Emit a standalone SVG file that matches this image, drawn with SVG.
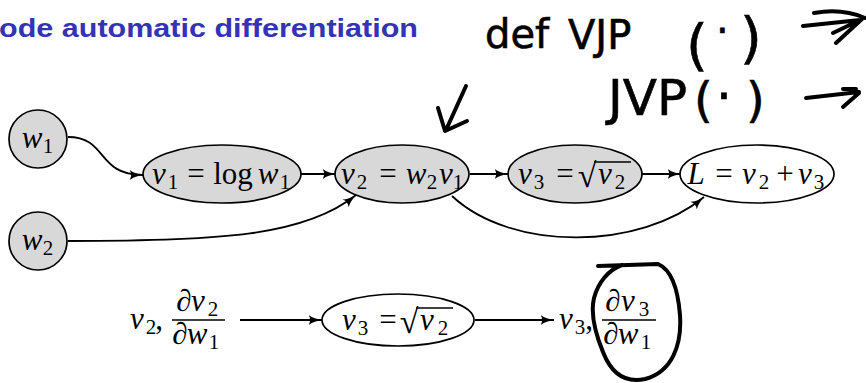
<svg xmlns="http://www.w3.org/2000/svg" width="866" height="383" viewBox="0 0 866 383">
<style>
.title{font-family:"Liberation Sans","DejaVu Sans",sans-serif;font-weight:bold;font-size:26px;fill:#3333b3}
.m{font-family:"Liberation Serif","DejaVu Serif",serif;font-size:31px;fill:#000;text-anchor:middle}
.i{font-style:italic}
.s{font-size:21px}
.node{fill:#d8d8d8;stroke:#000;stroke-width:1.7}
.wnode{fill:#fff;stroke:#000;stroke-width:1.7}
.edge{fill:none;stroke:#000;stroke-width:1.8;marker-end:url(#ah)}
.rule{stroke:#000;stroke-width:1.4}
.hand{font-family:"DejaVu Sans","Liberation Sans",sans-serif;fill:#000;stroke:#000;stroke-width:0.6}
.pen{fill:none;stroke:#000;stroke-width:4;stroke-linecap:round;stroke-linejoin:round}
</style>
<defs>
<marker id="ah" viewBox="0 0 14 11" refX="13.5" refY="5.5" markerWidth="14" markerHeight="11" markerUnits="userSpaceOnUse" orient="auto">
<path d="M0,0.5 C3.5,3.2 8,4.7 14,5.5 C8,6.3 3.5,7.8 0,10.5 C2.2,7.2 2.2,3.8 0,0.5 Z" fill="#000"/>
</marker>
</defs>
<rect width="866" height="383" fill="#fff"/>

<text class="title" x="-1" y="37" textLength="419" lengthAdjust="spacingAndGlyphs">ode automatic differentiation</text>

<g id="handwriting">
<text class="hand" font-size="40"><tspan x="485" y="48">def</tspan><tspan x="568" y="49">VJP</tspan><tspan x="686" y="64" font-size="56">(</tspan><tspan x="716" y="45">·</tspan><tspan x="740" y="57" font-size="56">)</tspan></text>
<text class="hand" font-size="50"><tspan x="608" y="115">JVP</tspan><tspan x="694" y="117" font-size="48">(</tspan><tspan x="716" y="113">·</tspan><tspan x="746" y="117" font-size="48">)</tspan></text>
<path class="pen" d="M814,13 Q842,8 865,18 M803,26 L860,20 M833,33 L858,21 M836,43 L862,19"/>
<path class="pen" d="M806,98 L859,92 M843,107 L859,93 M843,89 L856,89"/>
<path class="pen" stroke-width="5" d="M466,86 L446,130 M438,108 L445,131 L467,121"/>
</g>

<g id="connectors">
<path class="edge" d="M68,137 C108,137 96,175 143,175"/>
<path class="edge" d="M301,174 L336,174"/>
<path class="edge" d="M68,241 C220,241 305,236 356,195"/>
<path class="edge" d="M470,174 L508,174"/>
<path class="edge" d="M642,174 L681,174"/>
<path class="edge" d="M452,196 C512,252 640,250 704,197"/>
<path class="edge" d="M240,320 L322,320"/>
<path class="edge" d="M475,320 L554,320"/>
</g>

<g id="w1">
<circle class="node" cx="38" cy="139" r="29"/>
<text class="m"><tspan class="i" x="32" y="148">w</tspan><tspan class="s" x="48" y="153">1</tspan></text>
</g>
<g id="w2">
<circle class="node" cx="38" cy="241" r="29"/>
<text class="m"><tspan class="i" x="32" y="250">w</tspan><tspan class="s" x="48" y="255">2</tspan></text>
</g>
<g id="v1">
<ellipse class="node" cx="222" cy="174" rx="79" ry="29"/>
<text class="m"><tspan class="i" x="159" y="184">v</tspan><tspan class="s" x="173" y="189">1</tspan><tspan x="196" y="184">=</tspan><tspan x="233" y="184">log</tspan><tspan class="i" x="268" y="184">w</tspan><tspan class="s" x="285" y="189">1</tspan></text>
</g>
<g id="v2">
<ellipse class="node" cx="402" cy="174" rx="67" ry="29"/>
<text class="m"><tspan class="i" x="348" y="184">v</tspan><tspan class="s" x="362" y="189">2</tspan><tspan x="388" y="184">=</tspan><tspan class="i" x="416" y="184">w</tspan><tspan class="s" x="432" y="189">2</tspan><tspan class="i" x="446" y="184">v</tspan><tspan class="s" x="458" y="189">1</tspan></text>
</g>
<g id="v3">
<ellipse class="node" cx="575" cy="174" rx="67" ry="29"/>
<text class="m"><tspan class="i" x="525" y="184">v</tspan><tspan class="s" x="539" y="189">3</tspan><tspan x="565" y="184">=</tspan><tspan x="587" y="187" font-size="34">√</tspan><tspan class="i" x="605" y="184">v</tspan><tspan class="s" x="620" y="189">2</tspan></text>
<line class="rule" x1="594" y1="162" x2="631" y2="162"/>
</g>
<g id="L">
<ellipse class="wnode" cx="757" cy="174" rx="77" ry="29"/>
<text class="m"><tspan class="i" x="696" y="184">L</tspan><tspan x="724" y="184">=</tspan><tspan class="i" x="749" y="184">v</tspan><tspan class="s" x="764" y="189">2</tspan><tspan x="785" y="184">+</tspan><tspan class="i" x="805" y="184">v</tspan><tspan class="s" x="819" y="189">3</tspan></text>
</g>

<g id="input">
<text class="m"><tspan class="i" x="137" y="329">v</tspan><tspan class="s" x="151" y="334">2</tspan><tspan x="159" y="329">,</tspan></text>
<text class="m"><tspan class="i" x="184" y="311">∂</tspan><tspan class="i" x="198" y="311">v</tspan><tspan class="s" x="213" y="316">2</tspan></text>
<line class="rule" x1="172" y1="320" x2="225" y2="320"/>
<text class="m"><tspan class="i" x="180" y="344">∂</tspan><tspan class="i" x="197" y="344">w</tspan><tspan class="s" x="214" y="349">1</tspan></text>
</g>
<g id="v3b">
<ellipse class="wnode" cx="398" cy="320" rx="76" ry="26"/>
<text class="m"><tspan class="i" x="349" y="330">v</tspan><tspan class="s" x="363" y="335">3</tspan><tspan x="388" y="330">=</tspan><tspan x="409" y="333" font-size="34">√</tspan><tspan class="i" x="427" y="330">v</tspan><tspan class="s" x="443" y="335">2</tspan></text>
<line class="rule" x1="416" y1="308" x2="453" y2="308"/>
</g>
<g id="output">
<text class="m"><tspan class="i" x="566" y="329">v</tspan><tspan class="s" x="580" y="334">3</tspan><tspan x="589" y="329">,</tspan></text>
<text class="m"><tspan class="i" x="613" y="311">∂</tspan><tspan class="i" x="628" y="311">v</tspan><tspan class="s" x="644" y="316">3</tspan></text>
<line class="rule" x1="602" y1="320" x2="656" y2="320"/>
<text class="m"><tspan class="i" x="611" y="344">∂</tspan><tspan class="i" x="628" y="344">w</tspan><tspan class="s" x="646" y="349">1</tspan></text>
<path class="pen" d="M598,266 L658,264 C672,270 678,290 680,315 C682,345 672,372 645,379 C622,384 610,370 603,352 C596,335 590,315 594,298 C598,283 608,270 622,265"/>
</g>
</svg>
